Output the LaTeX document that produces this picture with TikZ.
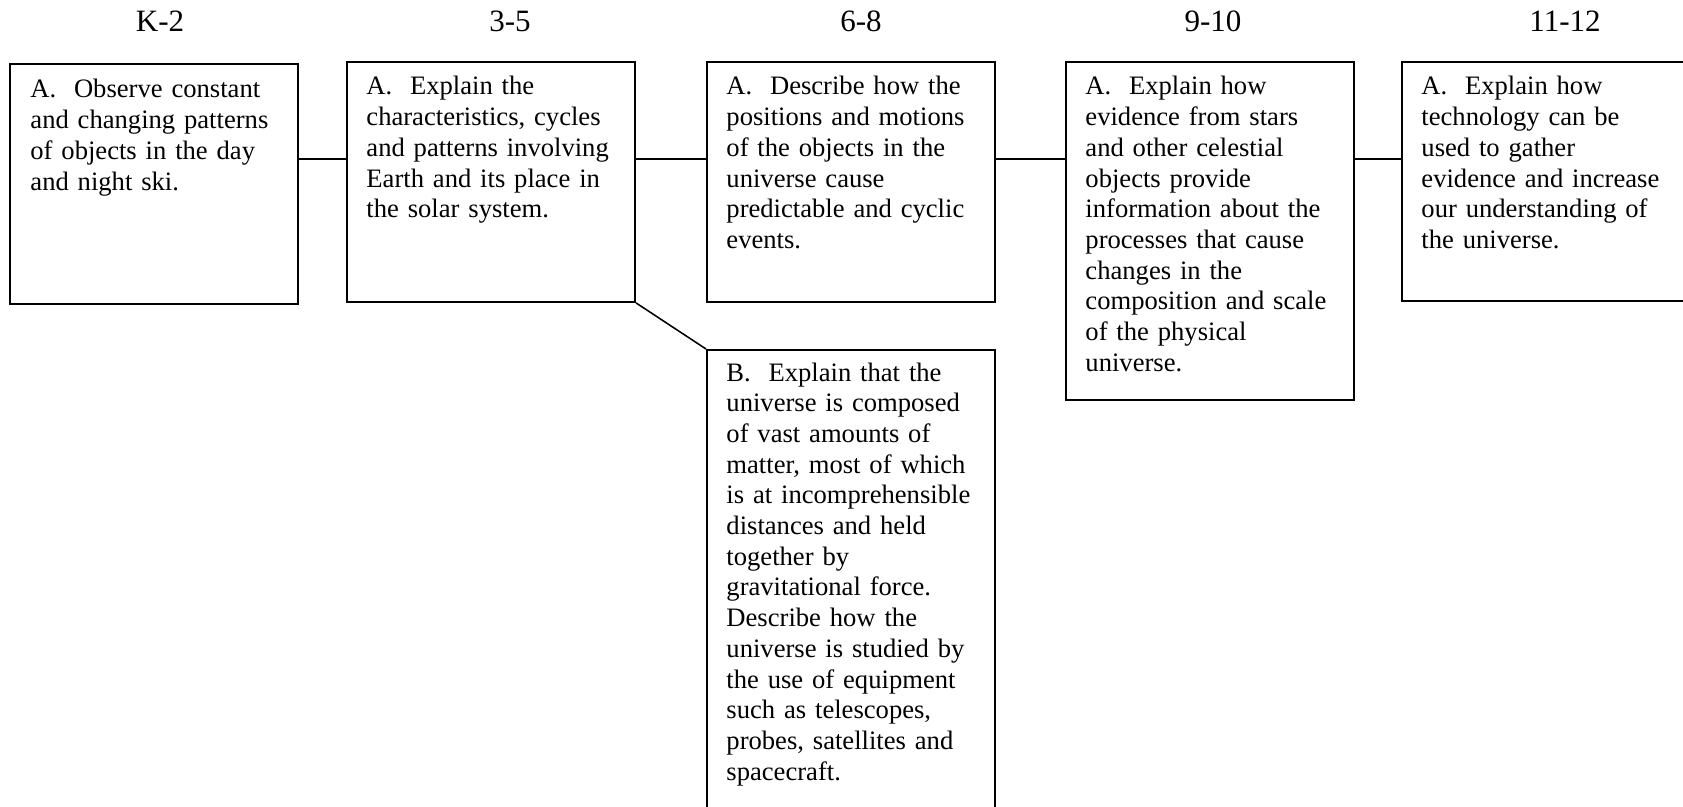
\documentclass[tikz,border=0pt]{standalone}
\usepackage{fontspec}
\setmainfont{Liberation Serif}
\tikzset{
  box/.style={draw, line width=0.9pt, anchor=north west, inner sep=0pt, minimum width=129.9pt},
  txt/.style={anchor=base west, inner sep=0pt, text width=118pt, align=left,
    font=\fontsize{12}{13.85}\selectfont},
  grade/.style={anchor=base, inner sep=0pt, font=\fontsize{14}{16}\selectfont},
  link/.style={line width=0.7pt}
}
\begin{document}
\begin{tikzpicture}[x=0.451pt,y=-0.451pt]
  \useasboundingbox (0,0) rectangle (1683,806);

  % Grade bands
  \node[grade] (gk2)   at (160,32)  {K-2};
  \node[grade] (g35l)  at (510,32)  {3-5};
  \node[grade] (g68l)  at (861,32)  {6-8};
  \node[grade] (g910l) at (1213,32) {9-10};
  \node[grade] (g1112l) at (1565,32) {11-12};

  % Boxes
  \node[box, minimum height=108.2pt] (k2)    at (9,63)    {};
  \node[box, minimum height=108.2pt] (g35)   at (346,61)  {};
  \node[box, minimum height=108.2pt] (g68a)  at (706,61)  {};
  \node[box, minimum height=221.4pt] (g68b)  at (706,349) {};
  \node[box, minimum height=152.4pt] (g910)  at (1065,61) {};
  \node[box, minimum height=107.8pt] (g1112) at (1401,61) {};

  % Box texts
  \node[txt] (k2t) at (30,98) {A.\ \ Observe constant\\and changing patterns\\of objects in the day\\and night ski.};
  \node[txt] (g35t) at (366,95) {A.\ \ Explain the\\characteristics, cycles\\and patterns involving\\Earth and its place in\\the solar system.};
  \node[txt] (g68at) at (726,95) {A.\ \ Describe how the\\positions and motions\\of the objects in the\\universe cause\\predictable and cyclic\\events.};
  \node[txt] (g68bt) at (726,381) {B.\ \ Explain that the\\universe is composed\\of vast amounts of\\matter, most of which\\is at incomprehensible\\distances and held\\together by\\gravitational force.\\Describe how the\\universe is studied by\\the use of equipment\\such as telescopes,\\probes, satellites and\\spacecraft.};
  \node[txt] (g910t) at (1085,95) {A.\ \ Explain how\\evidence from stars\\and other celestial\\objects provide\\information about the\\processes that cause\\changes in the\\composition and scale\\of the physical\\universe.};
  \node[txt] (g1112t) at (1421,95) {A.\ \ Explain how\\technology can be\\used to gather\\evidence and increase\\our understanding of\\the universe.};

  % Connectors
  \coordinate (row) at (0,159);
  \draw[link] (k2.east |- row) -- (g35.west |- row);
  \draw[link] (g35.east |- row) -- (g68a.west |- row);
  \draw[link] (g68a.east |- row) -- (g910.west |- row);
  \draw[link] (g910.east |- row) -- (g1112.west |- row);
  \draw[link] (g35.south east) -- (g68b.north west);
\end{tikzpicture}
\end{document}
